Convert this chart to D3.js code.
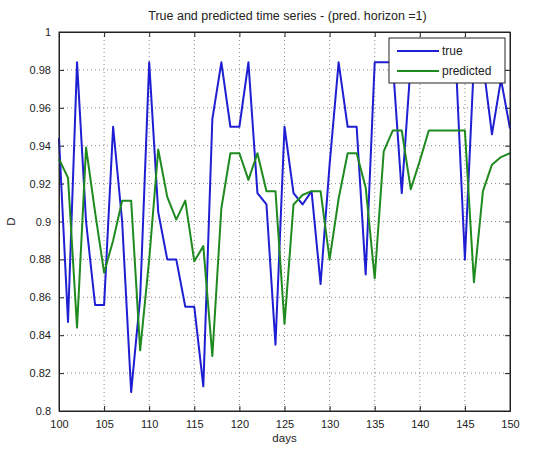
<!DOCTYPE html>
<html>
<head>
<meta charset="utf-8">
<script src="https://cdn.jsdelivr.net/npm/d3@7"></script>
<style>
  body { margin: 0; background: #fff; }
  svg { font-family: "Liberation Sans", Arial, sans-serif; }
</style>
</head>
<body>
<svg id="chart" width="553" height="449"></svg>
<script>
// days on the x axis
const days = d3.range(100, 151);

// measured series
const trueVals = [
  0.944, 0.847, 0.984, 0.900, 0.856, 0.856, 0.950, 0.900, 0.810, 0.860,
  0.984, 0.905, 0.880, 0.880, 0.855, 0.855, 0.813, 0.954, 0.984, 0.950,
  0.950, 0.984, 0.915, 0.909, 0.835, 0.950, 0.915, 0.909, 0.916, 0.867,
  0.930, 0.984, 0.950, 0.950, 0.872, 0.984, 0.984, 0.984, 0.915, 0.984,
  0.984, 0.984, 0.984, 0.984, 0.984, 0.880, 0.984, 0.984, 0.946, 0.975,
  0.949
];

// one-step-ahead predictions
const predVals = [
  0.933, 0.923, 0.844, 0.939, 0.905, 0.873, 0.890, 0.911, 0.911, 0.832,
  0.880, 0.938, 0.913, 0.901, 0.911, 0.879, 0.887, 0.829, 0.907, 0.936,
  0.936, 0.922, 0.936, 0.916, 0.916, 0.846, 0.909, 0.914, 0.916, 0.916,
  0.880, 0.912, 0.936, 0.936, 0.918, 0.870, 0.937, 0.948, 0.948, 0.917,
  0.932, 0.948, 0.948, 0.948, 0.948, 0.948, 0.868, 0.916, 0.930, 0.934,
  0.936
];

const xTicks = d3.range(100, 151, 5);
const yTicks = [0.8, 0.82, 0.84, 0.86, 0.88, 0.9, 0.92, 0.94, 0.96, 0.98, 1];
const yTickLabels = ["0.8", "0.82", "0.84", "0.86", "0.88", "0.9", "0.92", "0.94", "0.96", "0.98", "1"];

const seriesNames = ["true", "predicted"];
const seriesColors = ["#1e1ed2", "#1f8a1f"];

const svg = d3.select("#chart");
const pLeft = 59, pRight = 510, pTop = 32, pBottom = 411;

const x = d3.scaleLinear().domain([100, 150]).range([pLeft, pRight]);
const y = d3.scaleLinear().domain([0.8, 1]).range([pBottom, pTop]);

// grid
const grid = svg.append("g")
  .attr("stroke", "#555")
  .attr("stroke-width", 0.7)
  .attr("stroke-dasharray", "1,3");
grid.selectAll("line.gx").data(xTicks.slice(1, -1)).enter().append("line")
  .attr("x1", d => x(d)).attr("x2", d => x(d))
  .attr("y1", pTop).attr("y2", pBottom);
grid.selectAll("line.gy").data(yTicks.slice(1, -1)).enter().append("line")
  .attr("y1", d => y(d)).attr("y2", d => y(d))
  .attr("x1", pLeft).attr("x2", pRight);

// axes with inward ticks
svg.append("g").attr("transform", `translate(0,${pBottom})`)
  .call(d3.axisBottom(x).tickValues(xTicks).tickSize(-5).tickPadding(9).tickFormat(d3.format("d")));
svg.append("g").attr("transform", `translate(0,${pTop})`)
  .call(d3.axisTop(x).tickValues(xTicks).tickSize(-5).tickFormat(""));
svg.append("g").attr("transform", `translate(${pLeft},0)`)
  .call(d3.axisLeft(y).tickValues(yTicks).tickSize(-5).tickPadding(8)
    .tickFormat((d, i) => yTickLabels[i]));
svg.append("g").attr("transform", `translate(${pRight},0)`)
  .call(d3.axisRight(y).tickValues(yTicks).tickSize(-5).tickFormat(""));

svg.selectAll(".domain").attr("stroke", "#222");
svg.selectAll(".tick line").attr("stroke", "#222");
svg.selectAll(".tick text").attr("font-size", 11).attr("fill", "#222")
  .attr("font-family", "Liberation Sans, Arial, sans-serif");

// lines
const line = d3.line().x((d, i) => x(days[i])).y(d => y(d));
[trueVals, predVals].forEach((vals, k) => {
  svg.append("path")
    .datum(vals)
    .attr("fill", "none")
    .attr("stroke", seriesColors[k])
    .attr("stroke-width", 2)
    .attr("stroke-linejoin", "round")
    .attr("d", line);
});

// frame on top
svg.append("rect")
  .attr("x", pLeft).attr("y", pTop)
  .attr("width", pRight - pLeft).attr("height", pBottom - pTop)
  .attr("fill", "none").attr("stroke", "#222");

// legend
const lg = svg.append("g").attr("transform", "translate(389,38)");
lg.append("rect").attr("width", 116).attr("height", 45)
  .attr("fill", "#fff").attr("stroke", "#222");
seriesNames.forEach((name, i) => {
  const yy = 13 + i * 20;
  lg.append("line").attr("x1", 8).attr("x2", 50).attr("y1", yy).attr("y2", yy)
    .attr("stroke", seriesColors[i]).attr("stroke-width", 2);
  lg.append("text").attr("x", 53).attr("y", yy + 4)
    .attr("font-size", 12).attr("fill", "#222").text(name);
});

// titles
svg.append("text").attr("x", (pLeft + pRight) / 2 + 3).attr("y", 20)
  .attr("text-anchor", "middle").attr("font-size", 12.5).attr("fill", "#222")
  .text("True and predicted time series - (pred. horizon =1)");
svg.append("text").attr("x", (pLeft + pRight) / 2).attr("y", 442)
  .attr("text-anchor", "middle").attr("font-size", 11.5).attr("fill", "#222")
  .text("days");
svg.append("text").attr("transform", `translate(15,${(pTop + pBottom) / 2}) rotate(-90)`)
  .attr("text-anchor", "middle").attr("font-size", 11.5).attr("fill", "#222")
  .text("D");
</script>
</body>
</html>
